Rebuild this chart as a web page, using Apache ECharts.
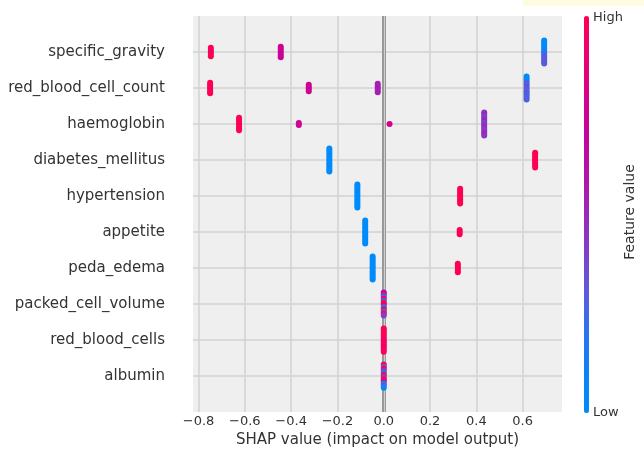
<!DOCTYPE html>
<html>
<head>
<meta charset="utf-8">
<script src="https://cdn.jsdelivr.net/npm/echarts@6/dist/echarts.min.js"></script>
<style>
  html, body { margin: 0; padding: 0; background: #fff; }
  #chart { width: 644px; height: 453px; }
</style>
</head>
<body>
<div id="chart"></div>
<script>
// features, top to bottom
const features = ['specific_gravity', 'red_blood_cell_count', 'haemoglobin', 'diabetes_mellitus',
  'hypertension', 'appetite', 'peda_edema', 'packed_cell_volume', 'red_blood_cells', 'albumin']

// each cluster: [shap value, feature value of every stacked dot, top to bottom]
const specificGravity = [
  [-0.747, [1, 1, 0.9, 1, 1]],
  [-0.445, [0.75, 0.72, 0.78, 0.72, 0.75, 0.72]],
  [0.693, [0, 0, 0, 0.02, 0, 0.1, 0.2, 0.28, 0.3, 0.26, 0.32, 0.3]]
]
const redBloodCellCount = [
  [-0.750, [1, 1, 0.92, 1, 0.95, 1]],
  [-0.324, [0.72, 0.75, 0.72, 0.75]],
  [-0.026, [0.55, 0.5, 0.58, 0.52, 0.55]],
  [0.617, [0, 0, 0.05, 0.3, 0.25, 0.38, 0.3, 0.22, 0.35, 0.25, 0.3, 0.28]]
]
const haemoglobin = [
  [-0.625, [1, 1, 0.95, 1, 0.9, 1, 1]],
  [-0.367, [0.72, 0.75]],
  [0.025, [0.78]],
  [0.434, [0.45, 0.5, 0.38, 0.45, 0.52, 0.35, 0.45, 0.5, 0.4, 0.45, 0.52, 0.45]]
]
const diabetesMellitus = [
  [-0.235, [0, 0, 0, 0, 0, 0, 0, 0, 0, 0, 0, 0]],
  [0.654, [1, 1, 1, 1, 1, 1, 1, 1]]
]
const hypertension = [
  [-0.114, [0, 0, 0, 0, 0, 0, 0, 0, 0, 0, 0, 0]],
  [0.330, [1, 1, 1, 1, 1, 1, 1, 1]]
]
const appetite = [
  [-0.080, [0, 0, 0, 0, 0, 0, 0, 0, 0, 0, 0, 0]],
  [0.328, [1, 1, 1]]
]
const pedaEdema = [
  [-0.048, [0, 0, 0, 0, 0, 0, 0, 0, 0, 0, 0, 0]],
  [0.320, [1, 1, 1, 1, 1]]
]
const packedCellVolume = [
  [0.0, [0.7, 0.55, 0.3, 1, 0.2, 1, 0.9, 0.1, 1, 0.3, 1, 0.4]]
]
const redBloodCells = [
  [0.0, [1, 1, 1, 1, 1, 1, 0.85, 1, 1, 0.85, 1, 1]]
]
const albumin = [
  [0.0, [1, 0.3, 1, 0.4, 0.2, 1, 0.35, 1, 0.9, 0.2, 0.3, 0.05]]
]

const rows = [specificGravity, redBloodCellCount, haemoglobin, diabetesMellitus, hypertension,
  appetite, pedaEdema, packedCellVolume, redBloodCells, albumin]

// SHAP red_blue colormap, low -> high
const palette = ['#008bfb', '#0a84f8', '#2a72f0', '#5a5cdc', '#8040c8', '#9a28b8',
  '#b312a8', '#c5039c', '#d8008a', '#ec006e', '#ff0052']

// [shap, row, feature value, index in stack, stack size]
let dots = []
rows.forEach((clusters, i) => {
  clusters.forEach(([shap, vals]) => {
    vals.forEach((v, k) => dots.push([shap, features.length - 1 - i, v, k, vals.length]))
  })
})

const font = 'DejaVu Sans'
const fmtX = v => (v < 0 ? '\u2212' : '') + Math.abs(v).toFixed(1)

let chart = echarts.init(document.getElementById('chart'))
let option = {
  animation: false,
  textStyle: { fontFamily: font },
  grid: {
    left: 193, right: 82, top: 16, bottom: 39,
    show: true, backgroundColor: '#efefef', borderWidth: 0
  },
  xAxis: {
    type: 'value',
    min: -0.824,
    max: 0.77,
    splitNumber: 8,
    name: 'SHAP value (impact on model output)',
    nameLocation: 'middle',
    nameGap: 12,
    nameTextStyle: { fontSize: 15, color: '#333', fontFamily: font },
    axisLine: { show: false },
    axisTick: { show: false },
    axisLabel: {
      margin: 3, fontSize: 13, color: '#333', fontFamily: font,
      showMinLabel: false, showMaxLabel: false,
      formatter: fmtX
    },
    splitLine: {
      show: true, showMinLine: false, showMaxLine: false,
      lineStyle: { color: '#d2d2d2', width: 1.5 }
    }
  },
  yAxis: {
    type: 'value',
    min: -1,
    max: features.length,
    interval: 1,
    axisLine: { show: false },
    axisTick: { show: false },
    axisLabel: {
      margin: 28, fontSize: 15, color: '#333', fontFamily: font,
      formatter: v => (v >= 0 && v < features.length) ? features[features.length - 1 - v] : ''
    },
    splitLine: {
      show: true, showMinLine: false, showMaxLine: false,
      lineStyle: { color: '#d2d2d2', width: 1.5 }
    }
  },
  visualMap: {
    type: 'continuous',
    seriesIndex: 1,
    dimension: 2,
    min: 0,
    max: 1,
    calculable: false,
    hoverLink: false,
    orient: 'vertical',
    left: 584,
    top: 16,
    padding: 0,
    itemWidth: 5,
    itemHeight: 397,
    inRange: { color: palette }
  },
  graphic: [
    { type: 'rect', left: 523, top: 0, shape: { width: 121, height: 6 }, style: { fill: '#fffbe3' }, silent: true },
    { type: 'text', left: 593, top: 11, style: { text: 'High', font: '13px "DejaVu Sans"', fill: '#333' } },
    { type: 'text', left: 593, top: 406, style: { text: 'Low', font: '13px "DejaVu Sans"', fill: '#333' } },
    {
      type: 'text', x: 630, y: 212, rotation: Math.PI / 2,
      style: { text: 'Feature value', font: '14px "DejaVu Sans"', fill: '#333', align: 'center', verticalAlign: 'middle' }
    }
  ],
  series: [
    {
      // zero line
      type: 'line',
      data: [],
      z: 1,
      silent: true,
      markLine: {
        z: 1,
        silent: true,
        symbol: 'none',
        label: { show: false },
        data: [
          { xAxis: 0, lineStyle: { color: '#999', width: 4, type: 'solid' } },
          { xAxis: 0, lineStyle: { color: '#cfcfcf', width: 1, type: 'solid' } }
        ]
      }
    },
    {
      type: 'custom',
      z: 3,
      encode: { x: 0, y: 1 },
      data: dots,
      renderItem: (params, api) => {
        const p = api.coord([api.value(0), api.value(1)])
        const k = api.value(3)
        const n = api.value(4)
        return {
          type: 'circle',
          shape: { cx: p[0], cy: p[1] + (k - (n - 1) / 2) * 2.1, r: 3 },
          style: { fill: api.visual('color') }
        }
      }
    }
  ]
}
chart.setOption(option)
</script>
</body>
</html>
